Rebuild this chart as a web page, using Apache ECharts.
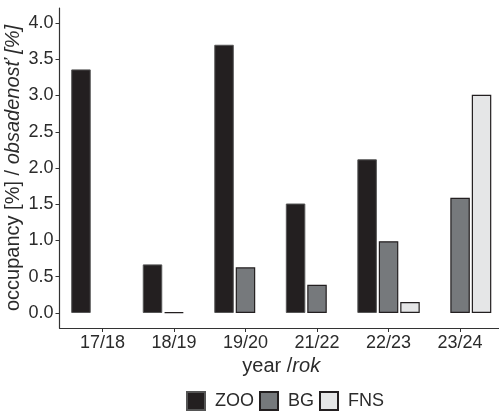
<!DOCTYPE html>
<html>
<head>
<meta charset="utf-8">
<script src="https://cdn.jsdelivr.net/npm/echarts@6/dist/echarts.min.js"></script>
<style>
  html, body { margin: 0; padding: 0; background: #fff; }
  #chart { width: 499px; height: 411px; }
</style>
</head>
<body>
<div id="chart"></div>
<script>
// Seasons on the x axis
const years = ['17/18', '18/19', '19/20', '21/22', '22/23', '23/24'];
// Occupancy in percent per group (null = no bar)
const zooValues = [3.36, 0.67, 3.70, 1.51, 2.12, null];
const bgValues  = [null, 0.01, 0.63, 0.39, 0.99, 1.59];
const fnsValues = [null, null, null, null, 0.15, 3.01];
// Y tick labels
const yTicks = [0, 0.5, 1.0, 1.5, 2.0, 2.5, 3.0, 3.5, 4.0];

const FONT = '"Liberation Sans", Arial, sans-serif';
const TEXT = '#2b2b2b';

// position each value at its season index on a numeric axis
function toPoints(values) {
  return values.map((v, i) => (v === null ? null : [i, v])).filter(p => p !== null);
}

const chart = echarts.init(document.getElementById('chart'), null, { renderer: 'canvas' });

const barCommon = {
  type: 'bar',
  barWidth: 19.5,
  barGap: '10%',
  animation: false
};

const titleRich = {
  n: { fontFamily: FONT, fontSize: 20, color: TEXT },
  i: { fontFamily: FONT, fontSize: 20, color: TEXT, fontStyle: 'italic' }
};

chart.setOption({
  backgroundColor: '#ffffff',
  animation: false,
  grid: {
    left: 59.5, top: 8, width: 443.5, height: 320,
    containLabel: false, outerBoundsMode: 'none'
  },
  xAxis: {
    type: 'value',
    min: -0.6,
    max: 5.6,
    name: '{n|year /}{i|rok}',
    nameLocation: 'middle',
    nameGap: 28,
    nameMoveOverlap: false,
    nameTextStyle: { rich: titleRich },
    axisLine: { show: true, onZero: false, lineStyle: { color: '#333333', width: 1.2 } },
    axisTick: { show: true, length: 4, customValues: years.map((_, i) => i), lineStyle: { color: '#333333' } },
    axisLabel: {
      customValues: years.map((_, i) => i),
      formatter: v => years[Math.round(v)],
      fontFamily: FONT, fontSize: 18, color: TEXT, margin: 6
    },
    splitLine: { show: false }
  },
  yAxis: {
    type: 'value',
    min: -0.207,
    max: 4.207,
    name: '{n|occupancy [%] / }{i|obsadenosť [%]}',
    nameLocation: 'middle',
    nameGap: 36,
    nameMoveOverlap: false,
    nameRotate: 90,
    nameTextStyle: { rich: titleRich },
    axisLine: { show: true, onZero: false, lineStyle: { color: '#333333', width: 1.2 } },
    axisTick: { show: true, length: 4, customValues: yTicks, lineStyle: { color: '#333333' } },
    axisLabel: {
      customValues: yTicks,
      formatter: v => v.toFixed(1),
      fontFamily: FONT, fontSize: 18, color: TEXT, margin: 6
    },
    splitLine: { show: false }
  },
  legend: {
    left: 186,
    top: 391,
    padding: 0,
    itemWidth: 18,
    itemHeight: 18,
    itemGap: 5,
    icon: 'rect',
    textStyle: { fontFamily: FONT, fontSize: 18, color: TEXT, padding: [0, 0, 0, 5] },
    data: ['ZOO', 'BG', 'FNS']
  },
  series: [
    Object.assign({}, barCommon, {
      name: 'ZOO',
      data: toPoints(zooValues),
      itemStyle: { color: '#231f20', borderColor: '#555555', borderWidth: 1 }
    }),
    Object.assign({}, barCommon, {
      name: 'BG',
      data: toPoints(bgValues),
      itemStyle: { color: '#76797c', borderColor: '#231f20', borderWidth: 1.2 }
    }),
    Object.assign({}, barCommon, {
      name: 'FNS',
      data: toPoints(fnsValues),
      itemStyle: { color: '#e5e6e7', borderColor: '#231f20', borderWidth: 1.2 }
    })
  ]
});
</script>
</body>
</html>
